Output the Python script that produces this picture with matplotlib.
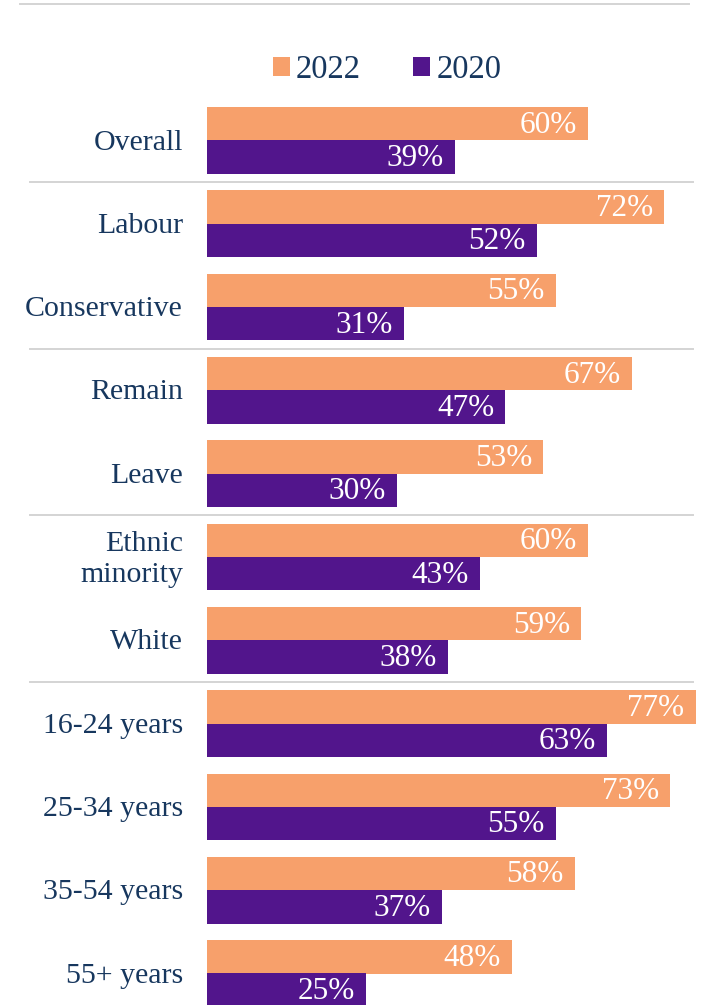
import matplotlib
matplotlib.use("Agg")
import matplotlib.pyplot as plt
from matplotlib.patches import Patch
from matplotlib.lines import Line2D

plt.rcParams['font.family'] = ['Liberation Serif', 'DejaVu Serif']

categories = ["Overall", "Labour", "Conservative", "Remain", "Leave",
              "Ethnic\nminority", "White", "16-24 years", "25-34 years",
              "35-54 years", "55+ years"]
values_2022 = [60, 72, 55, 67, 53, 60, 59, 77, 73, 58, 48]
values_2020 = [39, 52, 31, 47, 30, 43, 38, 63, 55, 37, 25]
series_labels = ["2022", "2020"]

ORANGE = "#F7A06B"
PURPLE = "#52158C"
TEXT = "#17375E"
RULE = "#D4D4D4"

W, H = 702, 1005
fig = plt.figure(figsize=(W / 100, H / 100), dpi=100)

# axes spans the full height; groups are spaced one data unit apart
pitch = 83.3
first_center = 140.5
ax = fig.add_axes([207 / W, 0, 1 - 207 / W, 1])
ax.set_xlim(0, 78)
ax.set_ylim((H - first_center) / pitch, -first_center / pitch)
ax.axis("off")

bar_h = 0.40
for i, (v22, v20) in enumerate(zip(values_2022, values_2020)):
    ax.barh(i - bar_h / 2, v22, height=bar_h, color=ORANGE, linewidth=0)
    ax.barh(i + bar_h / 2, v20, height=bar_h, color=PURPLE, linewidth=0)
    for y, v in ((i - bar_h / 2, v22), (i + bar_h / 2, v20)):
        ax.annotate(f"{v}%", xy=(v, y), xytext=(-8, -1.0), textcoords="offset points",
                    ha="right", va="center", color="white", fontsize=22.5)
    ax.annotate(categories[i], xy=(0, i), xycoords="data",
                xytext=(-24 * 72 / 100, -1.5), textcoords="offset points",
                ha="right", va="center", multialignment="right",
                color=TEXT, fontsize=21.5, linespacing=1.25)

# group separators
for b in (0.5, 2.5, 4.5, 6.5):
    ypx = first_center + b * pitch
    fig.add_artist(Line2D([30 / W, 693 / W], [1 - ypx / H, 1 - ypx / H],
                          color=RULE, linewidth=1.4))
# top rule
fig.add_artist(Line2D([20 / W, 689 / W], [1 - 4.5 / H, 1 - 4.5 / H],
                      color=RULE, linewidth=1.4))

handles = [Patch(facecolor=ORANGE, edgecolor="none"),
           Patch(facecolor=PURPLE, edgecolor="none")]
fig.legend(handles, series_labels, loc="center", bbox_to_anchor=(387 / W, 1 - 70 / H),
           ncol=2, frameon=False, fontsize=23.5, handlelength=0.53, handleheight=0.53,
           handletextpad=0.18, columnspacing=1.6, labelcolor=TEXT,
           borderpad=0, borderaxespad=0)

fig.savefig("out.png", dpi=100)
